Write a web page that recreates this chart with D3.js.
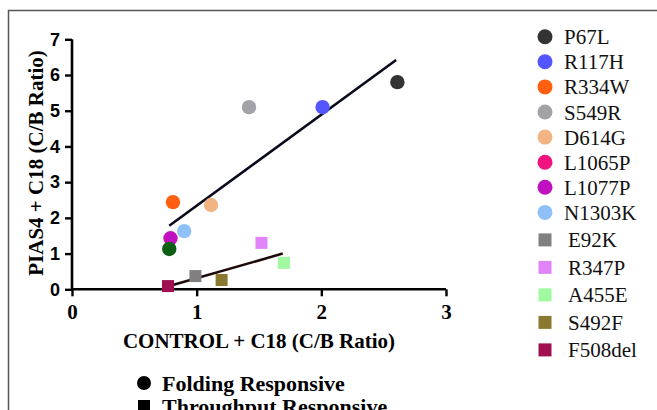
<!DOCTYPE html>
<html lang="en">
<head>
  <meta charset="UTF-8">
  <title>PIAS4 vs CONTROL</title>
  <style>
    body { margin: 0; background: #fff; }
    svg { display: block; }
    .serif { font-family: 'Liberation Serif', 'Times New Roman', Times, serif; }
    .sans { font-family: 'Liberation Sans', Arial, Helvetica, sans-serif; }
  </style>
</head>
<body>
  <div id="chart"></div>
  <script src="https://d3js.org/d3.v7.min.js"></script>
  <script>
    const width = 657
    const height = 410

    // mutation names, shapes and colours (legend order)
    const names = ['P67L', 'R117H', 'R334W', 'S549R', 'D614G', 'L1065P', 'L1077P', 'N1303K',
      'E92K', 'R347P', 'A455E', 'S492F', 'F508del']
    const shapes = ['circle', 'circle', 'circle', 'circle', 'circle', 'circle', 'circle', 'circle',
      'square', 'square', 'square', 'square', 'square']
    const colors = ['#333333', '#5555ff', '#ff6010', '#a2a2a8', '#f2b482', '#f0127e', '#c010c0', '#90c0f8',
      '#808080', '#e084f8', '#a0f8a0', '#8a7a30', '#a01050']

    // values; null = not visible
    const controlVals = [2.61, 2.01, 0.81, 1.42, 1.115, null, 0.79, 0.90,
      0.99, 1.52, 1.70, 1.20, 0.77]
    const piasVals = [5.80, 5.10, 2.44, 5.10, 2.36, null, 1.43, 1.63,
      0.37, 1.30, 0.74, 0.26, 0.09]

    // extra point shown on the plot without a legend entry
    const extraPoint = { x: 0.78, y: 1.13, color: '#0b5e12', shape: 'circle' }

    // fitted lines [x1, y1, x2, y2]
    const foldingFit = [0.78, 1.78, 2.60, 6.42]
    const throughputFit = [0.78, 0.09, 1.69, 1.0]

    const xTicks = [0, 1, 2, 3]
    const yTicks = [0, 1, 2, 3, 4, 5, 6, 7]

    const groups = ['Folding Responsive', 'Throughput Responsive']

    const svg = d3.select('#chart').append('svg')
      .attr('width', width)
      .attr('height', height)

    // frame
    svg.append('rect')
      .attr('x', 8.5).attr('y', 10.5)
      .attr('width', 700).attr('height', 450)
      .attr('fill', 'none')
      .attr('stroke', '#555')
      .attr('stroke-width', 1.5)

    const x = d3.scaleLinear().domain([0, 3]).range([72, 446])
    const y = d3.scaleLinear().domain([0, 7]).range([289.3, 39.3])

    // axes
    const xAxis = svg.append('g')
      .attr('transform', `translate(0, ${y(0)})`)
      .call(d3.axisBottom(x).tickValues(xTicks).tickSize(7).tickPadding(8).tickFormat(d3.format('d')))
    xAxis.attr('font-family', null)
    xAxis.select('.domain').attr('stroke-width', 2.6).attr('d', `M${x(0)},0H${x(3)}`)
    xAxis.selectAll('.tick line').attr('stroke-width', 2.4)
    xAxis.selectAll('.tick text')
      .attr('class', 'serif')
      .attr('font-weight', 'bold')
      .attr('font-size', 21)
      .attr('fill', '#000')

    const yAxis = svg.append('g')
      .attr('transform', `translate(${x(0)}, 0)`)
      .call(d3.axisLeft(y).tickValues(yTicks).tickSize(7).tickPadding(5).tickFormat(d3.format('d')))
    yAxis.attr('font-family', null)
    yAxis.select('.domain').attr('stroke-width', 2.6).attr('d', `M0,${y(0)}V${y(7)}`)
    yAxis.selectAll('.tick line').attr('stroke-width', 2.4)
    yAxis.selectAll('.tick text')
      .attr('class', 'sans')
      .attr('font-weight', 'bold')
      .attr('font-size', 18)
      .attr('fill', '#000')

    // axis titles
    svg.append('text')
      .attr('class', 'serif')
      .attr('x', 259).attr('y', 348)
      .attr('text-anchor', 'middle')
      .attr('font-weight', 'bold')
      .attr('font-size', 21)
      .text('CONTROL + C18 (C/B Ratio)')

    svg.append('text')
      .attr('class', 'serif')
      .attr('transform', 'translate(43, 163) rotate(-90)')
      .attr('text-anchor', 'middle')
      .attr('font-weight', 'bold')
      .attr('font-size', 21)
      .text('PIAS4 + C18 (C/B Ratio)')

    // fit lines
    const fits = [
      { v: foldingFit, color: '#0a0a1e' },
      { v: throughputFit, color: '#1e0a0a' }
    ]
    svg.selectAll('line.fit')
      .data(fits)
      .enter()
      .append('line')
      .attr('class', 'fit')
      .attr('x1', d => x(d.v[0])).attr('y1', d => y(d.v[1]))
      .attr('x2', d => x(d.v[2])).attr('y2', d => y(d.v[3]))
      .attr('stroke', d => d.color)
      .attr('stroke-width', 2.6)

    // points
    const points = names.map((n, i) => ({
      name: n, x: controlVals[i], y: piasVals[i], color: colors[i], shape: shapes[i]
    })).filter(d => d.x !== null)
    points.push(extraPoint)

    const r = 7.2
    const s = 12
    const marks = svg.append('g')
    marks.selectAll('circle')
      .data(points.filter(d => d.shape === 'circle'))
      .enter()
      .append('circle')
      .attr('cx', d => x(d.x))
      .attr('cy', d => y(d.y))
      .attr('r', r)
      .attr('fill', d => d.color)
    marks.selectAll('rect')
      .data(points.filter(d => d.shape === 'square'))
      .enter()
      .append('rect')
      .attr('x', d => x(d.x) - s / 2)
      .attr('y', d => y(d.y) - s / 2)
      .attr('width', s)
      .attr('height', s)
      .attr('fill', d => d.color)

    // right legend: circle rows a little tighter than square rows
    const nCircles = shapes.filter(d => d === 'circle').length
    const rowY = i => i < nCircles ? 36.7 + i * 25.1 : 36.7 + (nCircles - 1) * 25.1 + (i - nCircles + 1) * 27.5
    const legend = svg.append('g')
    const items = legend.selectAll('g')
      .data(names.map((n, i) => ({ name: n, color: colors[i], shape: shapes[i] })))
      .enter()
      .append('g')
      .attr('transform', (d, i) => `translate(545, ${rowY(i)})`)
    items.filter(d => d.shape === 'circle')
      .append('circle')
      .attr('r', 7.5)
      .attr('fill', d => d.color)
    items.filter(d => d.shape === 'square')
      .append('rect')
      .attr('x', -6.5).attr('y', -6.5)
      .attr('width', 13).attr('height', 13)
      .attr('fill', d => d.color)
    items.append('text')
      .attr('class', 'serif')
      .attr('x', d => d.shape === 'circle' ? 19 : 23)
      .attr('y', 7.5)
      .attr('font-size', 21)
      .attr('fill', '#111')
      .text(d => d.name)

    // bottom legend
    const bottom = svg.append('g')
    const bItems = bottom.selectAll('g')
      .data(groups)
      .enter()
      .append('g')
      .attr('transform', (d, i) => `translate(144, ${383 + i * 23})`)
    bItems.filter((d, i) => i === 0)
      .append('circle')
      .attr('r', 7)
      .attr('fill', '#000')
    bItems.filter((d, i) => i === 1)
      .append('rect')
      .attr('x', -6).attr('y', -6)
      .attr('width', 12).attr('height', 12)
      .attr('fill', '#000')
    bItems.append('text')
      .attr('class', 'serif')
      .attr('x', 18)
      .attr('y', 7.5)
      .attr('font-weight', 'bold')
      .attr('font-size', 22)
      .text(d => d)
  </script>
</body>
</html>
